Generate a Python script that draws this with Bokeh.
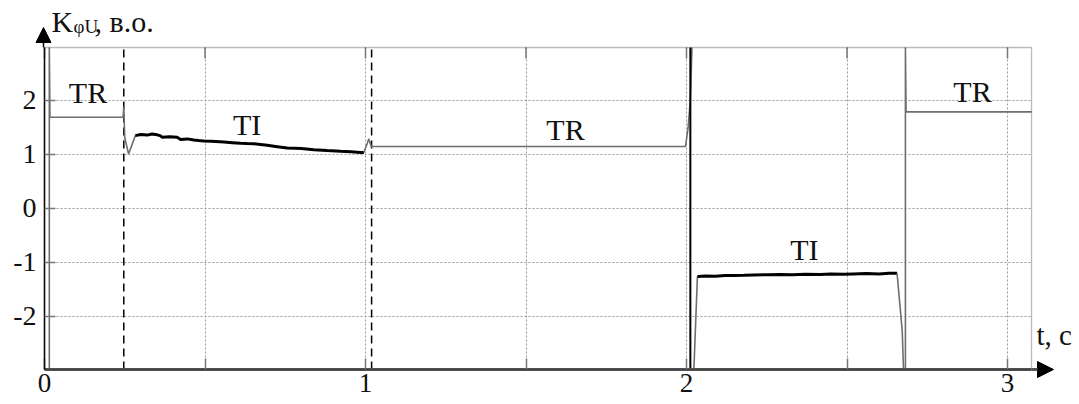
from bokeh.plotting import figure
from bokeh.models import (Range1d, FixedTicker, Arrow, NormalHead, Label,
                          BoxAnnotation, Grid)
from bokeh.embed import file_html
from bokeh.resources import INLINE

FONT = "Liberation Serif"

# ---- data ----
x_major = [0, 1, 2, 3]
x_minor = [0.5, 1.5, 2.5]
y_ticks = [-2, -1, 0, 1, 2]
y_tick_labels = {-2: "-2", -1: "-1", 0: "0", 1: "1", 2: "2"}

# TR regime, first interval (grey)
tr1_t = [0.015, 0.015, 0.017, 0.245, 0.247, 0.250, 0.262, 0.283]
tr1_v = [-2.99, 2.97, 1.68, 1.68, 1.88, 1.30, 1.00, 1.34]

# TI regime, first interval (black, noisy)
ti1_t = [0.283, 0.300, 0.320, 0.335, 0.351, 0.360, 0.367, 0.390, 0.413, 0.424,
         0.445, 0.465, 0.480, 0.496, 0.520, 0.559, 0.585, 0.611, 0.630, 0.652,
         0.694, 0.720, 0.756, 0.800, 0.839, 0.880, 0.922, 0.955, 0.984, 0.995]
ti1_v = [1.34, 1.36, 1.35, 1.37, 1.355, 1.34, 1.31, 1.32, 1.31, 1.27,
         1.28, 1.26, 1.25, 1.24, 1.235, 1.22, 1.21, 1.20, 1.195, 1.19,
         1.16, 1.14, 1.11, 1.10, 1.08, 1.065, 1.05, 1.04, 1.03, 1.03]

# TR regime, second interval (grey)
tr2_t = [0.995, 1.005, 1.010, 1.018, 1.997, 2.005, 2.012, 2.017]
tr2_v = [1.03, 1.19, 1.28, 1.14, 1.14, 1.49, 2.00, 2.97]

# switching spike (black)
sw_t = [2.012, 2.012]
sw_v = [2.97, -2.99]

# transition into TI (grey)
tr3_t = [2.023, 2.034]
tr3_v = [-2.99, -1.27]

# TI regime, second interval (black, noisy)
ti2_t = [2.034, 2.060, 2.090, 2.120, 2.147, 2.180, 2.210, 2.250, 2.293, 2.330,
         2.370, 2.417, 2.450, 2.490, 2.520, 2.560, 2.600, 2.630, 2.656]
ti2_v = [-1.27, -1.26, -1.265, -1.25, -1.25, -1.245, -1.24, -1.235, -1.23, -1.235,
         -1.225, -1.23, -1.22, -1.225, -1.22, -1.215, -1.22, -1.21, -1.21]

# back to TR (grey)
tr4_t = [2.656, 2.672, 2.676, 2.682, 2.682, 2.684, 3.075]
tr4_v = [-1.21, -2.27, -2.99, -2.99, 2.97, 1.78, 1.78]

dashed_t = [0.247, 1.019]

# regime labels
reg_text = ["TR", "TI", "TR", "TI", "TR"]
reg_t = [0.1355, 0.631, 1.623, 2.367, 2.891]
reg_v = [1.93, 1.343, 1.25, -0.97, 1.96]

# plot box (data limits of the drawn frame)
X_LO, X_HI = 0.0, 3.0748
Y_LO, Y_HI = -2.991, 2.972

GREY = "#6e6e6e"
W, H = 1075, 404
PX0, SX = 44.0, 321.0     # canvas px of t=0, px per second
PY0, SY = 207.5, 54.0     # canvas px of v=0, px per unit
LIFT = 11.0 / SY          # baseline correction for labels


def tx(px):
    return (px - PX0) / SX


def vy(py):
    return (PY0 - py) / SY


p = figure(width=W, height=H,
           x_range=Range1d(tx(0), tx(W)),
           y_range=Range1d(vy(H), vy(0)),
           output_backend="svg", toolbar_location=None,
           min_border_left=0, min_border_right=0,
           min_border_top=0, min_border_bottom=0)
p.background_fill_color = "white"
p.border_fill_color = "white"
p.outline_line_color = None

xt = FixedTicker(ticks=x_major, minor_ticks=x_minor)
yt = FixedTicker(ticks=y_ticks, minor_ticks=[])

# bottom axis
xa = p.xaxis[0]
xa.ticker = xt
xa.fixed_location = Y_LO
xa.bounds = (X_LO, X_HI)
xa.axis_line_color = "#555555"
xa.axis_line_width = 3
xa.major_tick_in = 11
xa.major_tick_out = 0
xa.minor_tick_in = 11
xa.minor_tick_out = 0
xa.major_tick_line_color = "#777777"
xa.minor_tick_line_color = "#777777"
xa.major_tick_line_width = 1.5
xa.minor_tick_line_width = 1.5
xa.major_label_text_font = FONT
xa.major_label_text_font_size = "27px"
xa.major_label_text_color = "#111111"
xa.major_label_standoff = 4

# left axis
ya = p.yaxis[0]
ya.ticker = yt
ya.fixed_location = X_LO
ya.bounds = (Y_LO, Y_HI)
ya.axis_line_color = "black"
ya.axis_line_width = 1.5
ya.major_tick_in = 11
ya.major_tick_out = 0
ya.minor_tick_line_color = None
ya.major_tick_line_color = "#777777"
ya.major_tick_line_width = 1.5
ya.major_label_text_font = FONT
ya.major_label_text_font_size = "28px"
ya.major_label_text_color = "#111111"
ya.major_label_standoff = 8
ya.major_label_overrides = y_tick_labels

# grid, limited to the plot box
has_cb = "cross_bounds" in Grid.properties()
p.xgrid.ticker = xt
p.ygrid.ticker = yt
if has_cb:
    p.xgrid.cross_bounds = (Y_LO, Y_HI)
    p.ygrid.cross_bounds = (X_LO, X_HI)
    for g in (p.xgrid[0], p.ygrid[0]):
        g.grid_line_color = "#9a9a9a"
        g.grid_line_dash = "2 2"
        g.grid_line_width = 1
    p.xgrid.minor_grid_line_color = "#9a9a9a"
    p.xgrid.minor_grid_line_dash = "2 2"
    p.xgrid.minor_grid_line_width = 1
else:
    p.xgrid.grid_line_color = None
    p.ygrid.grid_line_color = None
    gx = x_major + x_minor
    p.segment(x0=gx, y0=[Y_LO] * len(gx), x1=gx, y1=[Y_HI] * len(gx),
              line_color="#9a9a9a", line_dash="2 2", line_width=1)
    p.segment(x0=[X_LO] * len(y_ticks), y0=y_ticks, x1=[X_HI] * len(y_ticks), y1=y_ticks,
              line_color="#9a9a9a", line_dash="2 2", line_width=1)

# plot box border
p.add_layout(BoxAnnotation(left=X_LO, right=X_HI, bottom=Y_LO, top=Y_HI,
                           fill_alpha=0, fill_color=None,
                           line_color="#222222", line_width=1.3))

# inward ticks on the top edge
all_xt = x_major + x_minor
p.segment(x0=all_xt, y0=[Y_HI] * len(all_xt), x1=all_xt,
          y1=[Y_HI - 11 / SY] * len(all_xt), line_color="#777777", line_width=1.5)

# dashed switching markers
p.segment(x0=dashed_t, y0=[Y_LO] * len(dashed_t), x1=dashed_t, y1=[Y_HI] * len(dashed_t),
          line_color="black", line_width=1.5, line_dash="8 5")

# curves
p.line(tr1_t, tr1_v, line_color=GREY, line_width=1.6)
p.line(ti1_t, ti1_v, line_color="black", line_width=3)
p.line(tr2_t, tr2_v, line_color=GREY, line_width=1.6)
p.line(sw_t, sw_v, line_color="black", line_width=2)
p.line(tr3_t, tr3_v, line_color=GREY, line_width=1.6)
p.line(ti2_t, ti2_v, line_color="black", line_width=3)
p.line(tr4_t, tr4_v, line_color=GREY, line_width=1.6)

for s, t, v in zip(reg_text, reg_t, reg_v):
    p.add_layout(Label(x=t, y=v + LIFT, text=s, text_font=FONT, text_font_size="30px",
                       text_align="center", text_baseline="alphabetic",
                       text_color="#111111"))

# axis arrows
p.add_layout(Arrow(x_start=tx(43), y_start=Y_HI, x_end=tx(43), y_end=vy(27),
                   line_color="black", line_width=1.5,
                   end=NormalHead(size=15, fill_color="black", line_color="black")))
p.add_layout(Arrow(x_start=X_HI, y_start=Y_LO, x_end=tx(1053), y_end=Y_LO,
                   line_color="#555555", line_width=3,
                   end=NormalHead(size=16, fill_color="black", line_color="black")))

# axis titles
p.add_layout(Label(x=tx(51), y=vy(32) + LIFT, text="K", text_font=FONT,
                   text_font_size="30px", text_baseline="alphabetic", text_color="#111111"))
p.add_layout(Label(x=tx(73), y=vy(37) + LIFT, text="φU", text_font=FONT,
                   text_font_size="19px", text_baseline="alphabetic", text_color="#111111"))
p.add_layout(Label(x=tx(94), y=vy(32) + LIFT, text=", в.о.", text_font=FONT,
                   text_font_size="30px", text_baseline="alphabetic", text_color="#111111"))
p.add_layout(Label(x=tx(1036), y=vy(345) + LIFT, text="t, с", text_font=FONT,
                   text_font_size="29px", text_baseline="alphabetic", text_color="#111111"))

open("out.html", "w").write(file_html(p, INLINE))
